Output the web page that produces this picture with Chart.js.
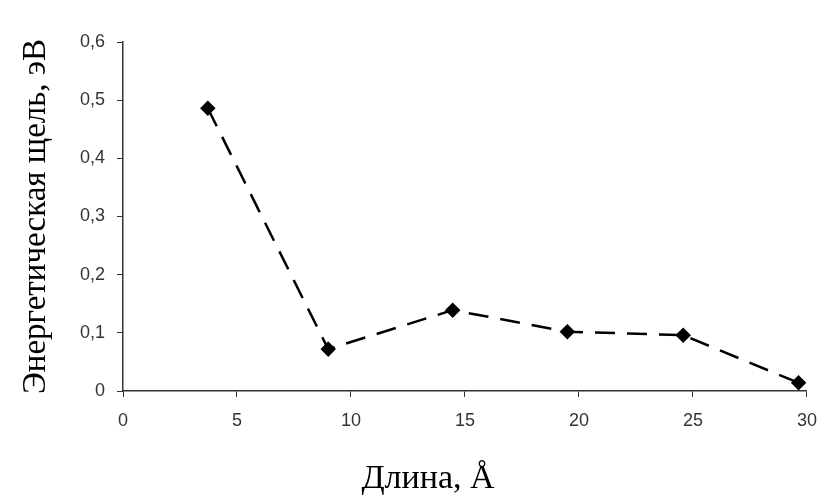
<!DOCTYPE html>
<html>
<head>
<meta charset="utf-8">
<script src="https://cdn.jsdelivr.net/npm/chart.js@4"></script>
<style>
  html, body { margin: 0; padding: 0; background: #fff; }
  #wrap { width: 830px; height: 499px; }
</style>
</head>
<body>
<div id="wrap"><canvas id="gapChart" width="830" height="499"></canvas></div>
<script>
// values
const lengths = [3.72, 9.0, 14.46, 19.49, 24.57, 29.63];
const gaps = [0.486, 0.072, 0.139, 0.102, 0.096, 0.014];
const xTicks = [0, 5, 10, 15, 20, 25, 30];
const yTicks = [0, 0.1, 0.2, 0.3, 0.4, 0.5, 0.6];

const xTitle = 'Длина, Å';
const yTitle = 'Энергетическая щель, эВ';

const axisColor = '#333';

// x title sits off-centre in the original, so draw it by hand
const xTitlePlugin = {
    id: 'xTitle',
    afterDraw(chart) {
        const ctx = chart.ctx;
        ctx.save();
        ctx.font = '34px "Liberation Serif", "Times New Roman", serif';
        ctx.fillStyle = '#000';
        ctx.textAlign = 'center';
        ctx.textBaseline = 'alphabetic';
        ctx.fillText(xTitle, 428, 488);
        ctx.restore();
    }
};

const ctx = document.getElementById('gapChart').getContext('2d');
new Chart(ctx, {
    type: 'scatter',
    data: {
        datasets: [{
            data: lengths.map((x, i) => ({ x: x, y: gaps[i] })),
            showLine: true,
            borderColor: '#000',
            backgroundColor: '#000',
            borderWidth: 2.5,
            borderDash: [20, 12],
            pointStyle: 'rectRot',
            pointRadius: 6,
            pointHoverRadius: 6,
            tension: 0
        }]
    },
    plugins: [xTitlePlugin],
    options: {
        responsive: false,
        animation: false,
        events: [],
        layout: { padding: { left: 0, right: 23, top: 42, bottom: 0 } },
        plugins: {
            legend: { display: false },
            tooltip: { enabled: false }
        },
        scales: {
            x: {
                type: 'linear',
                min: 0,
                max: 30,
                afterBuildTicks: s => { s.ticks = xTicks.map(v => ({ value: v })); },
                afterFit: s => { s.height = 108; },
                grid: { drawOnChartArea: false, color: axisColor, tickLength: 6 },
                border: { color: axisColor, width: 1.5 },
                ticks: {
                    color: '#333',
                    padding: 13,
                    font: { family: '"Liberation Sans", Arial, sans-serif', size: 18 }
                }
            },
            y: {
                type: 'linear',
                min: 0,
                max: 0.6,
                afterBuildTicks: s => { s.ticks = yTicks.map(v => ({ value: v })); },
                afterFit: s => { s.width = 123; },
                grid: { drawOnChartArea: false, color: axisColor, tickLength: 6 },
                border: { color: axisColor, width: 1.5 },
                ticks: {
                    color: '#333',
                    padding: 12,
                    font: { family: '"Liberation Sans", Arial, sans-serif', size: 18 },
                    callback: v => String(Math.round(v * 10) / 10).replace('.', ',')
                },
                title: {
                    display: true,
                    text: yTitle,
                    color: '#000',
                    padding: { top: 17, bottom: 0 },
                    font: { family: '"Liberation Serif", "Times New Roman", serif', size: 33 }
                }
            }
        }
    }
});
</script>
</body>
</html>
